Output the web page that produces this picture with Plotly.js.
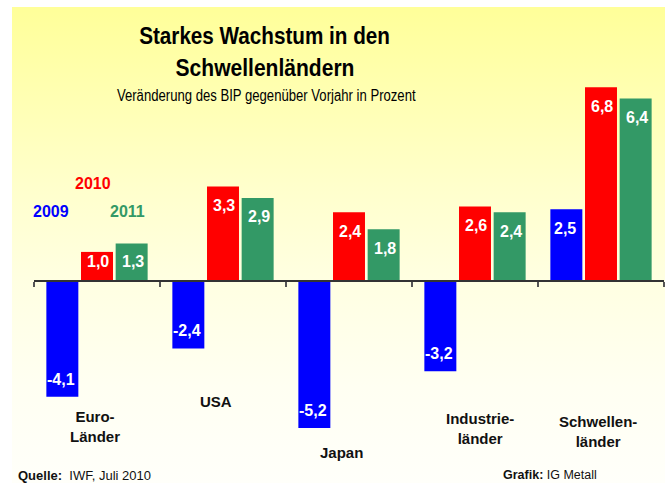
<!DOCTYPE html>
<html>
<head>
<meta charset="utf-8">
<script src="https://cdn.plot.ly/plotly-3.0.1.min.js"></script>
<style>
  html, body { margin:0; padding:0; background:#ffffff; }
  #wrap { position:relative; width:666px; height:483px; overflow:hidden; }
  #bg { position:absolute; left:12px; top:7px; width:653px; height:476px;
        background: linear-gradient(to bottom, #ffff99 0%, #ffffb4 20%, #ffffcc 38%, #ffffe2 58%, #fffff2 80%, #fffffa 100%); }
  #chart { position:absolute; left:0; top:0; width:666px; height:483px; }
</style>
</head>
<body>
<div id="wrap"><div id="bg"></div><div id="chart"></div></div>
<script>
// ---- data ----
const categories = ['Euro-Länder', 'USA', 'Japan', 'Industrieländer', 'Schwellenländer'];
const categoryLabels = ['Euro-<br>Länder', 'USA', 'Japan', 'Industrie-<br>länder', 'Schwellen-<br>länder'];
const years = ['2009', '2010', '2011'];
const values2009 = [-4.1, -2.4, -5.2, -3.2, 2.5];
const values2010 = [1.0, 3.3, 2.4, 2.6, 6.8];
const values2011 = [1.3, 2.9, 1.8, 2.4, 6.4];
const titleLine1 = 'Starkes Wachstum in den';
const titleLine2 = 'Schwellenländern';
const subtitle = 'Veränderung des BIP gegenüber Vorjahr in Prozent';
const sourceText = '<b>Quelle:</b>  IWF, Juli 2010';
const creditText = '<b>Grafik:</b> IG Metall';

// ---- styles / layout ----
const seriesValues = [values2009, values2010, values2011];
const colors = ['#0000ff', '#ff0000', '#339966'];
const W = 666, H = 483;
const M = {l: 34, r: 2, t: 80, b: 43};
const plotW = W - M.l - M.r, plotH = H - M.t - M.b;
const yMax = 7.053, yMin = -5.623;
const PX = plotH / (yMax - yMin);
const px2x = px => (px - M.l) / plotW;
const px2y = py => (H - M.b - py) / plotH;
const FONT = 'Liberation Sans, Arial, sans-serif';
const fmt = v => v.toFixed(1).replace('.', ',');

const traces = years.map((yr, i) => ({
  type: 'bar', name: yr, x: categories, y: seriesValues[i],
  marker: {color: colors[i], line: {width: 0}},
  hoverinfo: 'skip'
}));

const annotations = [];
const condense = []; // [annotation index, horizontal scale]
// value labels inside bars
const barOffsets = [-36, 0.5, 36];
seriesValues.forEach((vals, si) => {
  vals.forEach((v, ci) => {
    const h = Math.abs(v) * PX;
    const shift = Math.min(v > 0 ? 19 : 17.5, h - 18.5);
    annotations.push({
      x: categories[ci], y: v, xref: 'x', yref: 'y',
      xshift: barOffsets[si], yshift: v > 0 ? -shift : shift,
      text: '<b>' + fmt(v) + '</b>', showarrow: false,
      font: {family: FONT, size: 16, color: '#ffffff'},
      xanchor: 'center', yanchor: 'middle'
    });
  });
});
// category labels (positions as in reference)
const catPos = [[95, 426], [216, 401], [341.5, 452], [480, 428], [598, 431]];
categoryLabels.forEach((lab, i) => {
  annotations.push({
    x: px2x(catPos[i][0]), y: px2y(catPos[i][1]), xref: 'paper', yref: 'paper',
    text: '<b>' + lab + '</b>', showarrow: false,
    font: {family: FONT, size: 15, color: '#111111'},
    xanchor: 'center', yanchor: 'middle', align: 'center'
  });
});
// legend texts
const legPos = [[51, 211.7], [93, 183.3], [127.5, 211.7]];
years.forEach((yr, i) => {
  annotations.push({
    x: px2x(legPos[i][0]), y: px2y(legPos[i][1]), xref: 'paper', yref: 'paper',
    text: '<b>' + yr + '</b>', showarrow: false,
    font: {family: FONT, size: 16, color: colors[i]},
    xanchor: 'center', yanchor: 'middle'
  });
});
// titles (narrow type in reference -> horizontally condensed)
condense.push([annotations.length, 0.862]);
annotations.push({x: px2x(264), y: px2y(35), xref: 'paper', yref: 'paper', showarrow: false,
  text: '<b>' + titleLine1 + '</b>', font: {family: FONT, size: 24, color: '#000000'},
  xanchor: 'center', yanchor: 'middle'});
condense.push([annotations.length, 0.877]);
annotations.push({x: px2x(265), y: px2y(68), xref: 'paper', yref: 'paper', showarrow: false,
  text: '<b>' + titleLine2 + '</b>', font: {family: FONT, size: 24, color: '#000000'},
  xanchor: 'center', yanchor: 'middle'});
condense.push([annotations.length, 0.82]);
annotations.push({x: px2x(266), y: px2y(96), xref: 'paper', yref: 'paper', showarrow: false,
  text: subtitle, font: {family: FONT, size: 16, color: '#000000'},
  xanchor: 'center', yanchor: 'middle'});
// footer
annotations.push({x: px2x(16), y: px2y(475), xref: 'paper', yref: 'paper', showarrow: false,
  text: sourceText, font: {family: FONT, size: 13, color: '#111111'},
  xanchor: 'left', yanchor: 'middle'});
annotations.push({x: px2x(501), y: px2y(475), xref: 'paper', yref: 'paper', showarrow: false,
  text: creditText, font: {family: FONT, size: 12.5, color: '#111111'},
  xanchor: 'left', yanchor: 'middle'});

const layout = {
  width: W, height: H,
  margin: M,
  paper_bgcolor: 'rgba(0,0,0,0)', plot_bgcolor: 'rgba(0,0,0,0)',
  barmode: 'group', bargap: 0.175, bargroupgap: 0.077,
  showlegend: false,
  xaxis: {
    type: 'category', anchor: 'free', position: (0 - yMin) / (yMax - yMin),
    showline: true, linecolor: '#333333', linewidth: 1.5,
    ticks: 'outside', tickson: 'boundaries', ticklen: 5, tickcolor: '#555555', tickwidth: 1.5,
    showticklabels: false, showgrid: false, zeroline: false, fixedrange: true
  },
  yaxis: {range: [yMin, yMax], visible: false, showgrid: false, zeroline: false, fixedrange: true},
  annotations: annotations
};

Plotly.newPlot('chart', traces, layout, {displayModeBar: false, staticPlot: true}).then(gd => {
  condense.forEach(([idx, s]) => {
    const g = gd.querySelector('.annotation[data-index="' + idx + '"] text.annotation-text');
    if (!g) return;
    const bb = g.getBBox();
    const cx = bb.x + bb.width / 2;
    g.setAttribute('transform', 'translate(' + cx + ',0) scale(' + s + ',1) translate(' + (-cx) + ',0)');
  });
});
</script>
</body>
</html>
